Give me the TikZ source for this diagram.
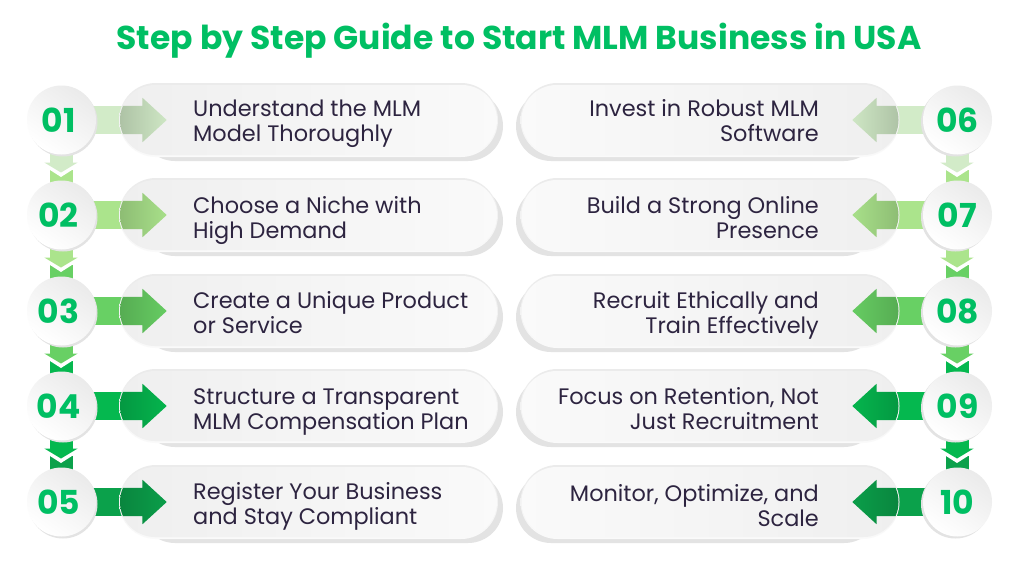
\documentclass[tikz,border=0pt]{standalone}
\usepackage{fontspec}
\setmainfont{Poppins}
\usetikzlibrary{arrows.meta,shapes.arrows,shapes.misc,positioning}
\definecolor{stepa}{HTML}{D2EBC8}
\definecolor{stepb}{HTML}{ABE48C}
\definecolor{stepc}{HTML}{68D064}
\definecolor{stepd}{HTML}{05B84F}
\definecolor{stepe}{HTML}{0BA14B}
\definecolor{numgreen}{HTML}{00BF63}
\definecolor{inkdark}{HTML}{2D2440}
\definecolor{pillgrey}{HTML}{EFEFEF}
\definecolor{pilledge}{HTML}{E3E3E3}
\tikzset{
    pillbox/.style={rounded rectangle,minimum width=377pt,minimum height=70pt,inner sep=0pt,left color=pillgrey,right color=white!98!black},
    pillback/.style={rounded rectangle,minimum width=363pt,minimum height=70pt,inner sep=0pt,fill=pilledge},
    pillrim/.style={rounded rectangle,minimum width=379pt,minimum height=74pt,inner sep=0pt,top color=white!92!black,bottom color=white!98!black},
    numdisc/.style={circle,minimum size=69pt,inner sep=0pt,top color=white!92!black,bottom color=white,shading angle=-35,text=numgreen,font=\fontsize{33}{33}\selectfont\bfseries},
    numback/.style={circle,minimum size=69pt,inner sep=0pt,fill=pilledge},
    steptext/.style={font=\fontsize{22.4}{25}\selectfont,text=inkdark,inner sep=0pt},
    bigarrow/.style={line width=28pt,-{Triangle[length=24pt,width=44pt]}},
    dropshaft/.style={line width=23pt},
    droparrow/.style={line width=23pt,-{Triangle[length=10pt,width=33pt]}},
    dropedge/.style={line width=23pt,-{Triangle[length=12pt,width=37pt]},white},
    darkarrow/.style={single arrow,inner sep=0pt,text height=28pt,text depth=0pt,text width=0pt,single arrow head extend=8pt,single arrow tip angle=85,minimum height=#1,anchor=tip},
}
\begin{document}
\begin{tikzpicture}[x=1pt,y=-1pt]
\useasboundingbox[fill=white] (0,0) rectangle (1024,576);
\node[font=\fontsize{33}{33}\selectfont\bfseries,text=numgreen,inner sep=0pt] (title) at (519,40.5) {Step by Step Guide to Start MLM Business in USA};

% vertical links, left and right column
\foreach \xx/\tag in {61/L,957/R}{
  \foreach \n/\yy/\nxt/\colr/\colnext in {1/120/215/stepa/stepb,2/215/311/stepb/stepc,3/311/406/stepc/stepd,4/406/502/stepd/stepe}{
    \coordinate (top\tag\n) at (\xx,\yy);
    \coordinate (low\tag\n) at (\xx,\nxt);
    \coordinate (mid\tag\n) at (\xx,\yy+50);
    \coordinate (tip\tag\n) at (\xx,\yy+52.5);
    \coordinate (rim\tag\n) at (\xx,\yy+57);
    \draw[dropshaft,\colnext] (mid\tag\n) -- (low\tag\n);
    \draw[dropedge] (top\tag\n) -- (rim\tag\n);
    \draw[droparrow,\colr] (top\tag\n) -- (tip\tag\n);
  }
}

% left column
\foreach \n/\yy/\base/\colr/\txt in {
  1/120/141/stepa/{Understand the MLM\\Model Thoroughly},
  2/215/238/stepb/{Choose a Niche with\\High Demand},
  3/311/333/stepc/{Create a Unique Product\\or Service},
  4/406/429/stepd/{Structure a Transparent\\MLM Compensation Plan},
  5/502/524/stepe/{Register Your Business\\and Stay Compliant}}{
  \coordinate (arrowL\n) at (167,\yy);
  \draw[bigarrow,\colr] (61,\yy) -- (arrowL\n);
  \node[pillback] (backL\n) at (321.5,\yy+6) {};
  \node[pillrim] (rimL\n) at (308.5,\yy) {};
  \node[pillbox] (pillL\n) at (308.5,\yy) {};
  \begin{scope}
    \clip[rounded corners=35pt] (120,\yy-35) rectangle (497,\yy+35);
    \node[darkarrow=74pt,left color=\colr!74!black,right color=\colr!98!black] (shadeL\n) at (arrowL\n) {};
  \end{scope}
  \node[numback] (backnumL\n) at (63,\yy+2) {};
  \node[numdisc] (numL\n) at (61.5,\yy) {0\n\kern6pt};
  \node[steptext,align=left,anchor=base west] (textL\n) at (193,\base) {\txt};
}
% right column
\foreach \n/\yy/\base/\colr/\txt/\lab in {
  1/120/141/stepa/{Invest in Robust MLM\\Software}/06,
  2/215/238/stepb/{Build a Strong Online\\Presence}/07,
  3/311/333/stepc/{Recruit Ethically and\\Train Effectively}/08,
  4/406/429/stepd/{Focus on Retention, Not\\Just Recruitment}/09,
  5/502/526/stepe/{Monitor, Optimize, and\\Scale}/10}{
  \coordinate (arrowR\n) at (852,\yy);
  \draw[bigarrow,\colr] (957,\yy) -- (arrowR\n);
  \node[pillback] (backR\n) at (697.5,\yy+6) {};
  \node[pillrim] (rimR\n) at (710,\yy) {};
  \node[pillbox,left color=white!98!black,right color=pillgrey] (pillR\n) at (710,\yy) {};
  \begin{scope}
    \clip[rounded corners=35pt] (521.5,\yy-35) rectangle (898.5,\yy+35);
    \node[darkarrow=74pt,shape border rotate=180,left color=\colr!98!black,right color=\colr!74!black] (shadeR\n) at (arrowR\n) {};
  \end{scope}
  \node[numback] (backnumR\n) at (955.5,\yy+2) {};
  \node[numdisc] (numR\n) at (957.5,\yy) {\lab};
  \node[steptext,align=right,anchor=base east] (textR\n) at (819,\base) {\txt};
}
\end{tikzpicture}
\end{document}
